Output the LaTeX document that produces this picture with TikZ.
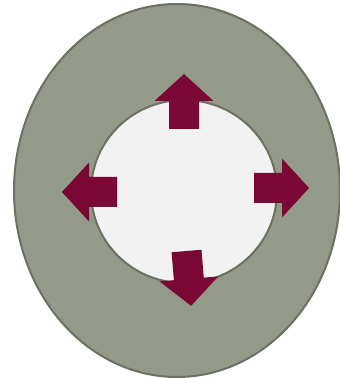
\documentclass[tikz,border=0pt]{standalone}
\usepackage{tikz}
\usetikzlibrary{positioning, calc}
\definecolor{ring}{HTML}{939A89}
\definecolor{rim}{HTML}{6A7160}
\definecolor{core}{HTML}{F2F2F2}
\definecolor{push}{HTML}{7A0734}

\begin{document}
\begin{tikzpicture}[x=1pt, y=1pt,
      rimline/.style={draw=rim, line width=2pt},
      outarrow/.pic={
        \fill[push] (0,-15) -- (28,-15) -- (28,-29.5) -- (55,0)
          -- (28,29.5) -- (28,15) -- (0,15) -- cycle;
      }]

    \useasboundingbox (0,0) rectangle (340,378);

    % outer ring and inner core
    \filldraw[rimline, fill=ring] (177,187.5) ellipse [x radius=163, y radius=186.5];
    \filldraw[rimline, fill=core] (184,186.5) ellipse [x radius=93, y radius=91.5];

    % arrows pushing outwards
    \pic[rotate=90] (up) at (184,249) {outarrow};
    \pic[rotate=180] (lt) at (117,186) {outarrow};
    \pic[rotate=0] (rt) at (254,190) {outarrow};
    \pic[rotate=-85.2] (dn) at (186.5,127) {outarrow};
  \end{tikzpicture}
\end{document}
